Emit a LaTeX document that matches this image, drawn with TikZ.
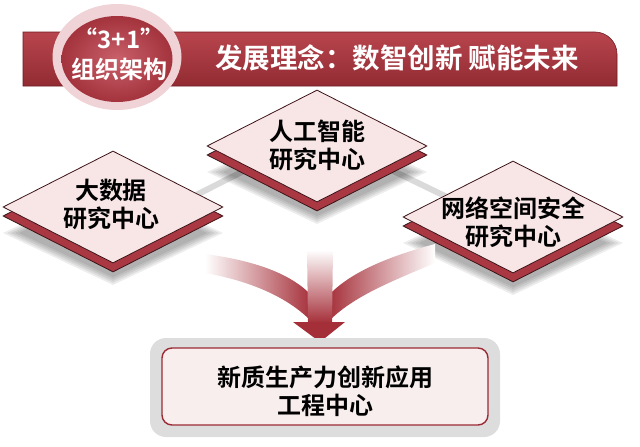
\documentclass[tikz,border=0pt]{standalone}
\usepackage{fontspec}
\setmainfont{Noto Sans CJK SC}[BoldFont={Noto Sans CJK SC Bold}]
\usetikzlibrary{shapes.geometric}

\definecolor{bannertop}{HTML}{B8454E}
\definecolor{bannerbot}{HTML}{922B33}
\definecolor{bannerline}{HTML}{6E1A22}
\definecolor{badgelight}{HTML}{C9606A}
\definecolor{badgedark}{HTML}{A3333D}
\definecolor{badgeglow}{HTML}{F0D3D6}
\definecolor{cardpink}{HTML}{F8E6E7}
\definecolor{carddark}{HTML}{3C1418}
\definecolor{cardred}{HTML}{A93842}
\definecolor{linkgray}{HTML}{DADADA}
\definecolor{arrowred}{HTML}{A52F39}
\definecolor{appfill}{HTML}{F9EEEE}
\definecolor{appline}{HTML}{9C2A35}
\definecolor{framegray}{HTML}{DDDDDD}

\begin{document}
\begin{tikzpicture}[x=1pt,y=-1pt,font=\bfseries]
\tikzset{
% diamond cards for the research centres, with a red underside
card/.style={diamond,draw=carddark,line width=0.8pt,fill=cardpink,minimum width=220pt,minimum height=112pt,inner sep=0pt},
card base/.style={card,fill=cardred},
card text/.style={align=center,text=black,font=\fontsize{24}{28}\selectfont\bfseries},
link/.style={line width=6pt,draw=linkgray},
title/.style={text=white,font=\fontsize{27.5}{30}\selectfont\bfseries},
badge/.style={ellipse,minimum width=111pt,minimum height=86pt,inner sep=0pt,inner color=badgelight,outer color=badgedark},
badge glow/.style={ellipse,minimum width=129pt,minimum height=106pt,inner sep=0pt,fill=badgeglow},
badge text/.style={align=center,text=white,font=\fontsize{24}{30}\selectfont\bfseries},
app box/.style={rectangle,rounded corners=10pt,draw=appline,line width=1.4pt,fill=appfill,minimum width=326pt,minimum height=77pt},
app frame/.style={rectangle,rounded corners=16pt,fill=framegray,minimum width=350pt,minimum height=99pt}
}
\useasboundingbox (0,0) rectangle (640,447);

% banner across the top
\path[top color=bannertop,bottom color=bannerbot,draw=bannerline,line width=0.6pt]
  (23,32) -- (595,32) .. controls (607,32) and (617,42) .. (617,54) -- (617,86) -- (23,86) -- cycle;
\node[title] (title) at (397,58) {发展理念：数智创新 赋能未来};

% badge on the left end of the banner
\node[badge glow] (badge glow) at (117,57) {};
\node[badge] (badge) at (117,59) {};
\node[badge text] (badge label) at (119,54) {“3+1”\\组织架构};

% gray links behind the cards
\node[coordinate] (ai pos) at (317,146) {};
\node[coordinate] (bigdata pos) at (113,207) {};
\node[coordinate] (cyber pos) at (513,217) {};
\draw[link] ([yshift=12pt]ai pos) -- ([yshift=-30pt]bigdata pos);
\draw[link] ([yshift=12pt]ai pos) -- ([yshift=-12pt]cyber pos);

% soft shadows under the cards
\foreach \c in {ai pos,bigdata pos,cyber pos}{
  \foreach \s in {0,4,...,16}{
    \fill[black,opacity=.07] (\c) ++(0,26) +(-94-\s,0) -- +(0,-44-\s/2) -- +(94+\s,0) -- +(0,44+\s/2) -- cycle;
  }
}

% converging arrow
\path[left color=white,middle color=arrowred!75,right color=arrowred]
  (205,254) .. controls (250,260) and (290,272) .. (312,296) -- (312,322) .. controls (288,297) and (250,281) .. (205,273) -- cycle;
\path[left color=arrowred,middle color=arrowred!75,right color=white]
  (435,244) .. controls (390,256) and (350,272) .. (328,296) -- (328,322) .. controls (352,297) and (390,282) .. (435,263) -- cycle;
\path[top color=white,middle color=arrowred!70,bottom color=arrowred] (307,250) -- (333,250) -- (332,323) -- (308,323) -- cycle;
\fill[arrowred] (293,322) -- (345,322) -- (320,342) -- cycle;

% the three research centres
\node[card base] (ai base) at ([yshift=-9pt]ai pos) {};
\node[card] (ai) at (ai pos) {};
\node[card text] (ai text) at (317,145) {人工智能\\研究中心};

\node[card base] (bigdata base) at ([yshift=-9pt]bigdata pos) {};
\node[card] (bigdata) at (bigdata pos) {};
\node[card text] (bigdata text) at (111,204) {大数据\\研究中心};

\node[card base] (cyber base) at ([yshift=-9pt]cyber pos) {};
\node[card] (cyber) at (cyber pos) {};
\node[card text] (cyber text) at (513,222) {网络空间安全\\研究中心};

% application centre
\node[app frame] (app frame) at (325,387.5) {};
\node[app box] (app) at (325,386.5) {};
\node[card text] (app text) at (325,391) {新质生产力创新应用\\工程中心};
\end{tikzpicture}
\end{document}
